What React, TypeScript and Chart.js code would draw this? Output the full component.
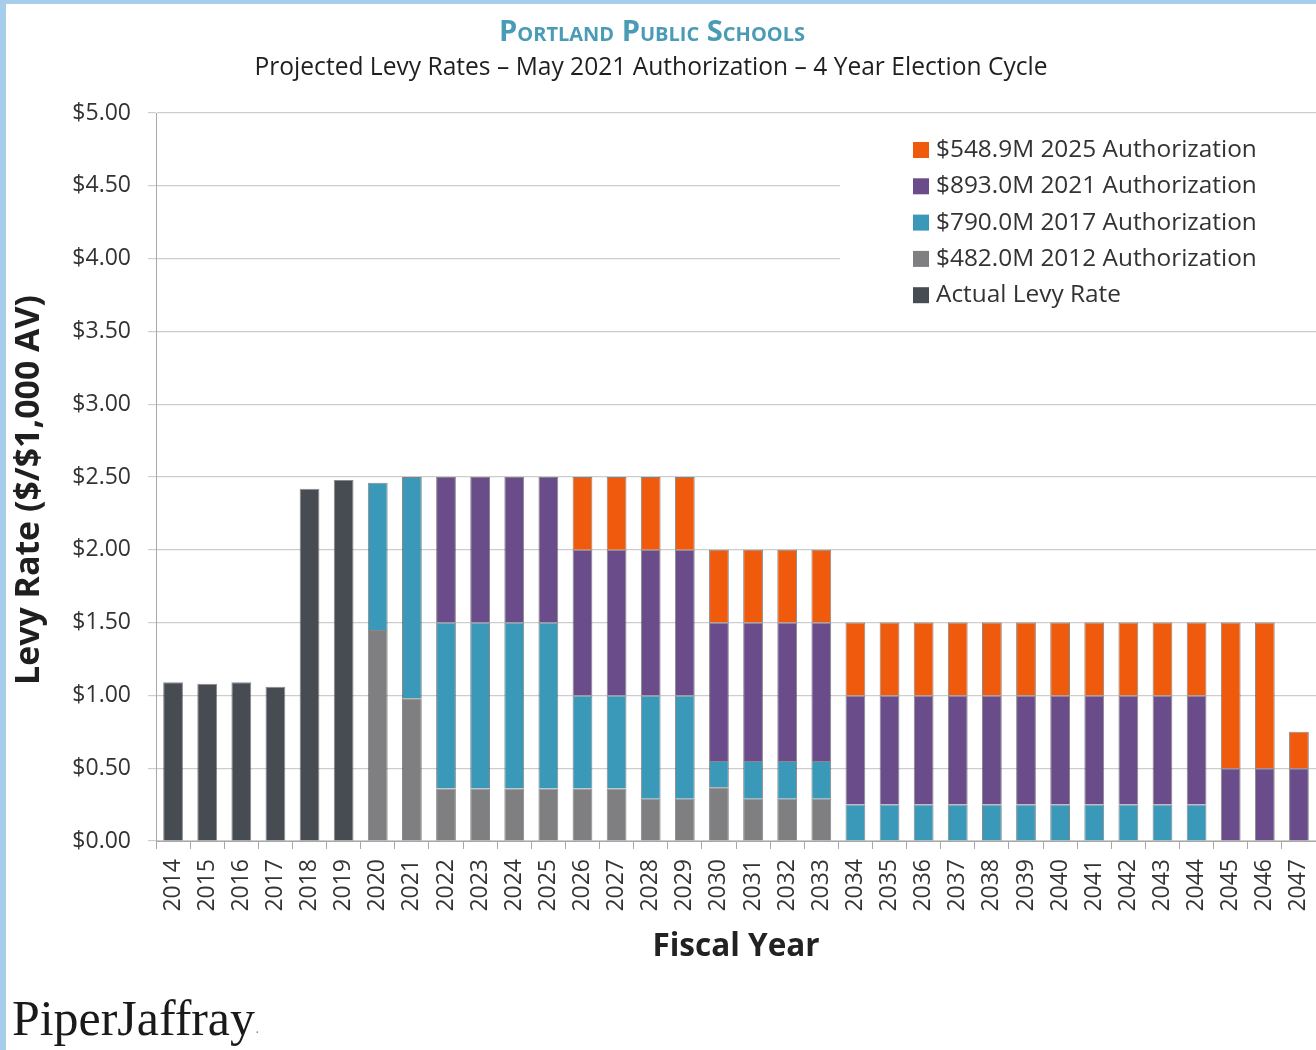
import React, { useEffect, useRef } from 'react';
import { Chart, registerables } from 'chart.js';

Chart.register(...registerables);

const years = [
  '2014', '2015', '2016', '2017', '2018', '2019', '2020', '2021', '2022', '2023', '2024', '2025',
  '2026', '2027', '2028', '2029', '2030', '2031', '2032', '2033', '2034', '2035', '2036', '2037',
  '2038', '2039', '2040', '2041', '2042', '2043', '2044', '2045', '2046', '2047',
];

const actualLevyRate = [
  1.09, 1.08, 1.09, 1.06, 2.42, 2.48, null, null, null, null, null, null,
  null, null, null, null, null, null, null, null, null, null, null, null,
  null, null, null, null, null, null, null, null, null, null,
];

const auth2012 = [
  null, null, null, null, null, null, 1.45, 0.98, 0.36, 0.36, 0.36, 0.36,
  0.36, 0.36, 0.29, 0.29, 0.37, 0.29, 0.29, 0.29, null, null, null, null,
  null, null, null, null, null, null, null, null, null, null,
];

const auth2017 = [
  null, null, null, null, null, null, 1.01, 1.52, 1.14, 1.14, 1.14, 1.14,
  0.64, 0.64, 0.71, 0.71, 0.18, 0.26, 0.26, 0.26, 0.25, 0.25, 0.25, 0.25,
  0.25, 0.25, 0.25, 0.25, 0.25, 0.25, 0.25, null, null, null,
];

const auth2021 = [
  null, null, null, null, null, null, null, null, 1.0, 1.0, 1.0, 1.0,
  1.0, 1.0, 1.0, 1.0, 0.95, 0.95, 0.95, 0.95, 0.75, 0.75, 0.75, 0.75,
  0.75, 0.75, 0.75, 0.75, 0.75, 0.75, 0.75, 0.5, 0.5, 0.5,
];

const auth2025 = [
  null, null, null, null, null, null, null, null, null, null, null, null,
  0.5, 0.5, 0.5, 0.5, 0.5, 0.5, 0.5, 0.5, 0.5, 0.5, 0.5, 0.5,
  0.5, 0.5, 0.5, 0.5, 0.5, 0.5, 0.5, 1.0, 1.0, 0.25,
];

const seriesLabels = {
  actual: 'Actual Levy Rate',
  a2012: '$482.0M 2012 Authorization',
  a2017: '$790.0M 2017 Authorization',
  a2021: '$893.0M 2021 Authorization',
  a2025: '$548.9M 2025 Authorization',
};

const titleText = 'Portland Public Schools';
const subtitleText = 'Projected Levy Rates \u2013 May 2021 Authorization \u2013 4 Year Election Cycle';
const yAxisTitle = 'Levy Rate ($/$1,000 AV)';
const xAxisTitle = 'Fiscal Year';
const logoText = 'PiperJaffray';

const COLORS = {
  actual: '#474b52',
  a2012: '#7f7f81',
  a2017: '#3a98b8',
  a2021: '#6a4c8a',
  a2025: '#f05a0c',
};

const FONT = "'Open Sans', 'DejaVu Sans', sans-serif";

function fitFont(ctx: CanvasRenderingContext2D, text: string, prefix: string, family: string, target: number) {
  ctx.font = `${prefix} 20px ${family}`;
  const w = ctx.measureText(text).width;
  const size = (20 * target) / w;
  return `${prefix} ${size.toFixed(2)}px ${family}`;
}

const decorPlugin = {
  id: 'decor',
  afterDraw(chart: any) {
    const ctx: CanvasRenderingContext2D = chart.ctx;
    ctx.save();
    // Titles
    ctx.textAlign = 'center';
    ctx.textBaseline = 'middle';
    ctx.fillStyle = '#4a9bb6';
    ctx.font = fitFont(ctx, titleText, 'small-caps bold', FONT, 311);
    ctx.fillText(titleText, 646, 29);
    ctx.fillStyle = '#1f1f1f';
    ctx.font = fitFont(ctx, subtitleText, 'normal', FONT, 793);
    ctx.fillText(subtitleText, 645, 64);

    // Y axis title
    ctx.save();
    ctx.translate(23, 486);
    ctx.rotate(-Math.PI / 2);
    ctx.fillStyle = '#1f1f1f';
    ctx.font = fitFont(ctx, yAxisTitle, 'bold', FONT, 390);
    ctx.fillText(yAxisTitle, 0, 0);
    ctx.restore();

    // Legend box
    ctx.fillStyle = '#ffffff';
    ctx.fillRect(834, 120, 476, 196);
    const items = [
      { label: seriesLabels.a2025, color: COLORS.a2025 },
      { label: seriesLabels.a2021, color: COLORS.a2021 },
      { label: seriesLabels.a2017, color: COLORS.a2017 },
      { label: seriesLabels.a2012, color: COLORS.a2012 },
      { label: seriesLabels.actual, color: COLORS.actual },
    ];
    const legendFont = fitFont(ctx, items[0].label, 'normal', FONT, 321);
    ctx.textAlign = 'left';
    items.forEach((it, i) => {
      const cy = 146 + i * 36.3;
      ctx.fillStyle = it.color;
      ctx.fillRect(907, cy - 8, 16, 16);
      ctx.fillStyle = '#333333';
      ctx.font = legendFont;
      ctx.fillText(it.label, 930, cy);
    });

    // Logo
    ctx.textBaseline = 'alphabetic';
    ctx.fillStyle = '#1a1a1a';
    ctx.font = fitFont(ctx, logoText, 'normal', "'Liberation Serif', 'DejaVu Serif', serif", 243);
    ctx.fillText(logoText, 6, 1031);
    ctx.fillStyle = '#888888';
    ctx.font = "bold 10px 'Liberation Serif', serif";
    ctx.fillText('.', 250, 1029);
    ctx.restore();
  },
};

export default function App() {
  const canvasRef = useRef<HTMLCanvasElement | null>(null);

  useEffect(() => {
    document.body.style.margin = '0';
    const canvas = canvasRef.current;
    if (!canvas) return;
    const mk = (label: string, data: (number | null)[], color: string) => ({
      label,
      data,
      backgroundColor: color,
      borderColor: 'rgba(40,40,40,0.55)',
      borderWidth: 1,
      barPercentage: 0.58,
      categoryPercentage: 1.0,
    });
    const chart = new Chart(canvas, {
      type: 'bar',
      data: {
        labels: years,
        datasets: [
          mk(seriesLabels.actual, actualLevyRate, COLORS.actual),
          mk(seriesLabels.a2012, auth2012, COLORS.a2012),
          mk(seriesLabels.a2017, auth2017, COLORS.a2017),
          mk(seriesLabels.a2021, auth2021, COLORS.a2021),
          mk(seriesLabels.a2025, auth2025, COLORS.a2025),
        ],
      },
      options: {
        responsive: false,
        animation: false,
        events: [],
        layout: { padding: { top: 109, left: 0, right: 0, bottom: 0 } },
        plugins: {
          legend: { display: false },
          title: { display: false },
          tooltip: { enabled: false },
        },
        scales: {
          x: {
            stacked: true,
            offset: true,
            grid: {
              display: true,
              drawOnChartArea: false,
              drawTicks: true,
              tickLength: 8,
              color: '#a8a8a8',
              offset: true,
            },
            border: { display: true, color: '#a8a8a8', width: 1 },
            ticks: {
              minRotation: 90,
              maxRotation: 90,
              autoSkip: false,
              padding: 10,
              color: '#333333',
              font: { family: FONT, size: 23 },
            },
            title: {
              display: true,
              text: xAxisTitle,
              color: '#222222',
              font: { family: FONT, size: 31.5, weight: 'bold' },
              padding: { top: 0, bottom: 84 },
            },
            afterFit: (s: any) => {
              s.height = 209;
              s.paddingLeft = 0;
              s.paddingRight = 0;
            },
          },
          y: {
            stacked: true,
            min: 0,
            max: 5,
            ticks: {
              stepSize: 0.5,
              padding: 17,
              color: '#333333',
              font: { family: FONT, size: 23 },
              callback: (v: any) => '$' + Number(v).toFixed(2),
            },
            grid: { color: '#cdcdcd', lineWidth: 1.2, tickLength: 8 },
            border: { display: true, color: '#a8a8a8', width: 1 },
            title: { display: false, text: yAxisTitle },
            afterFit: (s: any) => {
              s.width = 150;
            },
          },
        },
      },
      plugins: [decorPlugin],
    } as any);
    return () => chart.destroy();
  }, []);

  return (
    <div
      style={{
        position: 'absolute',
        left: 0,
        top: 0,
        width: 1316,
        height: 1050,
        background: '#a6cde9',
        overflow: 'hidden',
      }}
    >
      <div style={{ position: 'absolute', left: 6, top: 4, width: 1310, height: 1046, background: '#ffffff' }}>
        <canvas ref={canvasRef} width={1310} height={1046} style={{ display: 'block' }} />
      </div>
    </div>
  );
}
